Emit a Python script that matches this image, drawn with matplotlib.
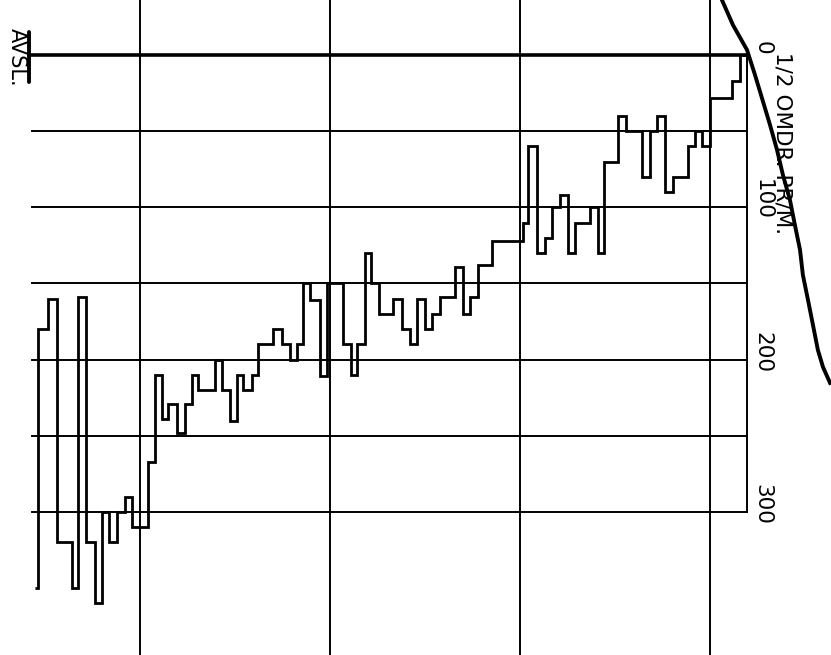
import matplotlib
matplotlib.use("Agg")
import matplotlib.pyplot as plt

# profile: step edges (horizontal position) and level (depth) of each step
edges = [-55.3, -53.7, -48.4, -43.7, -35.8, -32.6, -28.4, -23.7, -20, -16.3,
         -12.1, -7.9, -4.2, 4.2, 7.9, 11.6, 14.7, 19.5, 23.7, 27.4,
         30.5, 39.5, 43.2, 47.4, 51.1, 54.2, 58.9, 62.1, 70, 74.7,
         78.9, 82.6, 85.8, 89.5, 94.7, 98.4, 106.8, 111.1, 114.2, 118.4,
         121.6, 125.8, 133.2, 137.9, 142.1, 145.8, 150, 153.7, 157.9, 165.8,
         170, 173.7, 177.9, 185.3, 201.6, 204.2, 208.9, 213.2, 216.8, 221.1,
         225.3, 228.9, 236.8, 241.1, 244.2, 251.6, 255.8, 264.2, 268.4, 272.1,
         276.3, 280.5, 288.4, 292.1, 295.8, 300, 311.6, 315.8, 319.5]
levels = [350, 180, 160, 320, 350, 159, 320, 360, 300, 320,
          300, 290, 310, 267, 210, 239, 229, 248, 229, 210,
          220, 200, 220, 240, 210, 220, 210, 190, 180, 190,
          200, 190, 150, 161, 211, 150, 190, 210, 190, 130,
          150, 170, 160, 180, 190, 160, 180, 170, 159, 139,
          170, 159, 138, 122, 110, 60, 130, 120, 100, 92,
          130, 110, 100, 130, 70, 40, 50, 80, 50, 40,
          90, 80, 60, 50, 60, 28, 17, 0]

# hand drawn curve top right
curve_x = [306.3, 312.1, 319.5, 323.7, 331.6, 335.3, 338.4, 342.1,
           344.7, 347.4, 348.9, 351.6, 354.2, 356.8, 359.5, 363.2]
curve_y = [-36.1, -19.7, -3.3, 13.1, 45.9, 62.4, 78.8, 95.2,
           111.6, 128, 144.4, 160.9, 177.2, 193.7, 204.9, 215.3]

hlines = [0, 50, 100, 150, 200, 250, 300]
vlines = [0, 100, 200, 300]
tick_labels = ["0", "100", "200", "300"]
tick_pos = [0, 100, 200, 300]

x_left, x_right = -56.8, 319.5
font = ["Liberation Sans Narrow", "DejaVu Sans"]

fig = plt.figure(figsize=(8.31, 6.55), dpi=100)
ax = fig.add_axes([0, 0, 1, 1])
ax.set_xlim(-73.7, 363.7)
ax.set_ylim(393.9, -36.1)
ax.axis("off")

for v in vlines:
    ax.axvline(v, color="black", lw=1.4)
for h in hlines:
    ax.plot([x_left, x_right], [h, h], color="black", lw=2.6 if h == 0 else 1.4)
ax.plot([x_right, x_right], [-2, 300], color="black", lw=1.4)

# AVSL. marker
ax.plot([-58.5, -58.5], [-15, 18], color="black", lw=2.8, solid_capstyle="round")
ax.text(-64.7, 1.3, "AVSL.", rotation=-90, ha="center", va="center",
        fontsize=15, family=font)

ax.stairs(levels, edges, baseline=None, color="black", lw=2.0)
ax.plot(curve_x, curve_y, color="black", lw=2.8)

for p, t in zip(tick_pos, tick_labels):
    ax.text(322.5, p - 5, t, rotation=-90, ha="left", va="center",
            fontsize=15.5, family=font)
ax.text(338.4, 57.8, "1/2 OMDR. PR/M.", rotation=-90, ha="center", va="center",
        fontsize=15.5, family=font)

fig.savefig("out.png", dpi=100)
